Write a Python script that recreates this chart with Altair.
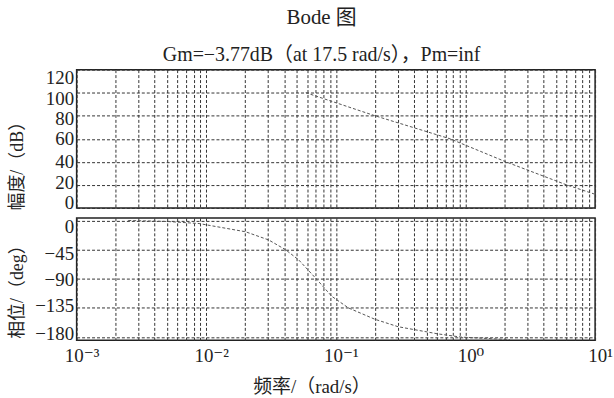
import altair as alt
import pandas as pd

# Magnitude curve (rad/s, dB)
mag_freq = [0.0586, 0.2, 0.76, 2.05, 6.03, 9.8]
mag_db = [100, 80, 60, 40, 20, 12.2]

# Phase curve (rad/s, deg)
phase_freq = [0.0025, 0.005, 0.0088, 0.0201, 0.0303, 0.0408, 0.0516, 0.0713,
              0.0929, 0.125, 0.2, 0.302, 0.61, 0.92, 2.2]
phase_deg = [0, -1.5, -4.7, -17.4, -30, -45, -60.7, -91,
             -117, -135, -152.5, -164, -175, -180, -184]

mag_ticks = [0, 20, 40, 60, 80, 100, 120]
phase_ticks = [0, -45, -90, -135, -180]
x_grid = [k * 10.0 ** d for d in range(-3, 1) for k in range(1, 10)] + [10.0]
decade_labels = {0.001: "10\u207b\u00b3", 0.01: "10\u207b\u00b2", 0.1: "10\u207b\u00b9",
                 1.0: "10\u2070", 10.0: "10\u00b9"}

title_text = "Bode 图"
subtitle_text = "Gm=\u22123.77dB（at 17.5 rad/s），Pm=inf"
mag_title = "幅度/（dB）"
phase_title = "相位/（deg）"
x_title = "频率/（rad/s）"

SERIF = "'Liberation Serif', 'DejaVu Serif', 'Noto Sans CJK SC', serif"
INK = "#222222"

mag_df = pd.DataFrame({"f": mag_freq, "v": mag_db})
phase_df = pd.DataFrame({"f": phase_freq, "v": phase_deg})

label_expr = " : ".join(
    f"datum.value == {k} ? '{v}'" for k, v in decade_labels.items()
) + " : ''"

xscale = alt.Scale(type="log", domain=[0.001, 10], nice=False)

grid_common = dict(grid=True, gridDash=[3, 2], gridColor="#333333", gridWidth=1,
                   gridOpacity=1, ticks=False, domain=False)

x_top = alt.X("f:Q", scale=xscale,
              axis=alt.Axis(values=x_grid, labels=False, title=None, **grid_common))
x_bot = alt.X("f:Q", scale=xscale,
              axis=alt.Axis(values=x_grid, labels=True, labelExpr=label_expr,
                            labelFont=SERIF, labelFontSize=19, labelColor=INK,
                            labelPadding=6, labelOffset=5, labelFlush=False,
                            labelOverlap=False, labelBound=False,
                            title=x_title, titleFont=SERIF, titleFontSize=19,
                            titleFontWeight="normal", titleColor=INK,
                            titleX=236, titleY=52, titleAlign="center",
                            titleBaseline="alphabetic", **grid_common))


def offsets(pairs):
    return {"condition": [{"test": f"datum.value == {v}", "value": o} for v, o in pairs],
            "value": 0}


def yaxis(values, title, title_y, label_offset):
    return alt.Axis(values=values, labelFont=SERIF, labelFontSize=19, labelColor=INK,
                    labelPadding=3, labelBaseline="middle", labelOffset=label_offset,
                    labelOverlap=False, labelBound=False, labelFlush=False,
                    title=title, titleFont=SERIF, titleFontSize=18,
                    titleFontWeight="normal", titleColor=INK, titleAngle=270,
                    titleX=-59, titleY=title_y, titleAlign="left",
                    titleBaseline="middle", **grid_common)


top_offset = offsets([(120, 8), (100, 6), (80, 3), (20, -2), (0, -5)])
bot_offset = offsets([(0, 6), (-45, 4), (-90, 1), (-135, -2), (-180, -4)])

top = alt.Chart(mag_df).mark_line(
    strokeDash=[3, 2], color="#555555", strokeWidth=1, clip=True
).encode(
    x=x_top,
    y=alt.Y("v:Q", scale=alt.Scale(domain=[0, 120], nice=False, zero=False),
            axis=yaxis(mag_ticks, mag_title, 141, top_offset)),
).properties(width=521, height=139)

bottom = alt.Chart(phase_df).mark_line(
    strokeDash=[3, 2], color="#555555", strokeWidth=1, clip=True
).encode(
    x=x_bot,
    y=alt.Y("v:Q", scale=alt.Scale(domain=[-185, 4], nice=False, zero=False),
            axis=yaxis(phase_ticks, phase_title, 121, bot_offset)),
).properties(width=521, height=123)

chart = alt.vconcat(top, bottom, spacing=10, bounds="flush").properties(
    title=alt.TitleParams(text=title_text, subtitle=subtitle_text, font=SERIF,
                          subtitleFont=SERIF, fontSize=21, subtitleFontSize=20,
                          fontWeight="normal", color=INK, subtitleColor=INK,
                          subtitlePadding=17, offset=3, anchor="middle", dx=11),
    padding={"left": 8, "top": 6, "right": 0, "bottom": 0},
    background="white",
).configure_view(stroke=INK, strokeWidth=1.5)

chart.save("out.html", embed_options={"renderer": "svg", "actions": False})
